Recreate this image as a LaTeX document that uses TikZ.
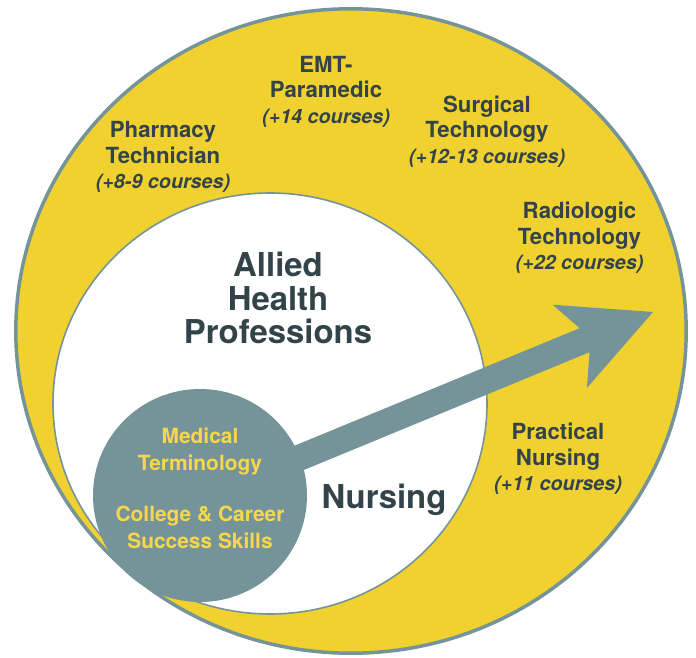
\documentclass[tikz,border=0pt]{standalone}
\usepackage{fontspec}
\setmainfont{TeX Gyre Heros}
\definecolor{sunyellow}{HTML}{F0D12F}
\definecolor{slateblue}{HTML}{75949A}
\definecolor{darktext}{HTML}{32444A}
\definecolor{paleyellow}{HTML}{F9D74C}
\tikzset{%
    ring/.style={fill=sunyellow, draw=slateblue, line width=3.5pt},
    hub/.style={fill=white, draw=slateblue, line width=1.6pt},
    core/.style={fill=slateblue},
    career/.style={align=center, text=darktext, font=\fontsize{22.3}{25.7}\selectfont\bfseries},
    bigtitle/.style={align=center, text=darktext, font=\fontsize{33}{33.3}\selectfont\bfseries},
    skill/.style={align=center, text=paleyellow, font=\fontsize{21}{26.7}\selectfont\bfseries},
    %career box/.style={draw=red},
}
\newcommand{\extra}[1]{{\fontsize{19.8}{25.7}\selectfont\itshape #1}}

\begin{document}
\begin{tikzpicture}[x=1bp, y=-1bp]

	\useasboundingbox (0,0) rectangle (696,658);

	% outer ring and inner circle
	\draw[ring] (351,331) ellipse [x radius=335.2, y radius=322.2];
	\draw[hub] (270,403.5) ellipse [x radius=217, y radius=210.5];

	% arrow
	\coordinate (tip) at (653,312);
	\begin{scope}[shift={(tip)}, rotate=22.4]
		\fill[slateblue] (0,0) -- (-90,-45) -- (-74,-13) -- (-490,-13)
			-- (-490,13) -- (-74,13) -- (-90,45) -- cycle;
	\end{scope}

	% core courses
	\fill[core] (200,495.5) ellipse [x radius=107, y radius=106.5];
	\coordinate (corecenter) at (200,495.5);

	% center labels
	\node[bigtitle] (allied) at (278,298) {Allied\\Health\\Professions};
	\node[bigtitle] (nursing) at (384,500) {Nursing};
	\node[skill] (basics) at (200,488.4) {Medical\\Terminology\\[25pt]College \& Career\\Success Skills};

	% programs in the ring
	\node[career] (pharmacy) at (163,157.1) {Pharmacy\\Technician\\\extra{(+8-9 courses)}};
	\node[career] (emt) at (326,91.6) {EMT-\\Paramedic\\\extra{(+14 courses)}};
	\node[career] (surgical) at (487,131.6) {Surgical\\Technology\\\extra{(+12-13 courses)}};
	\node[career] (radiologic) at (579.5,237.9) {Radiologic\\Technology\\\extra{(+22 courses)}};
	\node[career] (practical) at (558,459) {Practical\\Nursing\\\extra{(+11 courses)}};

\end{tikzpicture}
\end{document}
